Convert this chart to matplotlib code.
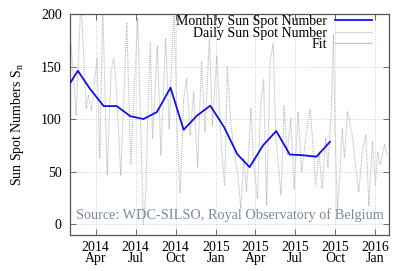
import numpy as np
import pandas as pd
import matplotlib
matplotlib.use("Agg")
import matplotlib.pyplot as plt
import matplotlib.dates as mdates

plt.rcParams['font.family'] = ['Liberation Serif', 'DejaVu Serif']
plt.rcParams['mathtext.fontset'] = 'custom'
plt.rcParams['mathtext.rm'] = 'Liberation Serif'
plt.rcParams['mathtext.it'] = 'Liberation Serif:italic'
plt.rcParams['font.size'] = 10

# monthly mean sunspot number (plotted near the 19th of each month)
monthly_dates = ["2014-01-19", "2014-02-19", "2014-03-19", "2014-04-19", "2014-05-19",
                 "2014-06-19", "2014-07-19", "2014-08-19", "2014-09-19", "2014-10-19",
                 "2014-11-19", "2014-12-19", "2015-01-19", "2015-02-19", "2015-03-19",
                 "2015-04-19", "2015-05-19", "2015-06-19", "2015-07-19", "2015-08-19",
                 "2015-09-19"]
monthly_ssn = [125.7, 146.1, 128.7, 112.5, 112.5, 102.9, 100.2, 106.9, 130.0, 90.0,
               103.6, 112.9, 93.0, 66.7, 54.5, 75.3, 88.8, 66.5, 65.8, 64.4, 78.6]

# daily sunspot number (turning points)
daily_dates = ["2014-02-03", "2014-02-15", "2014-02-26", "2014-03-10", "2014-03-15",
               "2014-03-22", "2014-04-04", "2014-04-10", "2014-04-17", "2014-04-27",
               "2014-05-06", "2014-05-12", "2014-05-17", "2014-05-28", "2014-06-11",
               "2014-06-20", "2014-07-06", "2014-07-19", "2014-07-25", "2014-07-28",
               "2014-08-04", "2014-08-09", "2014-08-20", "2014-08-28", "2014-09-08",
               "2014-09-16", "2014-09-27", "2014-10-05", "2014-10-11", "2014-10-19",
               "2014-10-26", "2014-11-03", "2014-11-11", "2014-11-20", "2014-11-29",
               "2014-12-07", "2014-12-17", "2014-12-24", "2015-01-03", "2015-01-14",
               "2015-01-21", "2015-01-27", "2015-02-04", "2015-02-12", "2015-02-19",
               "2015-02-27", "2015-03-06", "2015-03-12", "2015-03-22", "2015-03-28",
               "2015-04-06", "2015-04-13", "2015-04-20", "2015-04-27", "2015-05-05",
               "2015-05-12", "2015-05-18", "2015-05-30", "2015-06-06", "2015-06-13",
               "2015-06-21", "2015-06-29", "2015-07-08", "2015-07-16", "2015-07-26",
               "2015-08-05", "2015-08-12", "2015-08-17", "2015-08-25", "2015-09-01",
               "2015-09-09", "2015-09-14", "2015-09-22", "2015-09-27", "2015-09-30",
               "2015-10-06", "2015-10-11", "2015-10-17", "2015-10-22", "2015-10-29",
               "2015-11-03", "2015-11-09", "2015-11-17", "2015-11-24", "2015-12-02",
               "2015-12-10", "2015-12-17", "2015-12-25", "2016-01-01", "2016-01-06",
               "2016-01-12", "2016-01-22", "2016-01-28"]
daily_ssn = [172, 104, 215, 110, 123, 108, 158, 63, 205, 47,
             147, 158, 137, 47, 192, 57, 196, 0, 35, 90,
             173, 82, 170, 66, 177, 91, 210, 76, 30, 119,
             138, 85, 126, 54, 155, 88, 177, 94, 160, 69,
             37, 150, 97, 69, 50, 15, 63, 31, 110, 60,
             25, 113, 138, 18, 155, 172, 82, 28, 113, 66,
             101, 34, 107, 50, 85, 110, 69, 37, 69, 34,
             82, 54, 107, 180, 97, 15, 44, 91, 63, 107,
             97, 85, 54, 31, 69, 85, 18, 79, 37, 69,
             57, 76, 66]

monthly_dates = pd.to_datetime(monthly_dates)
daily_dates = pd.to_datetime(daily_dates)

fig = plt.figure(figsize=(4.15, 2.71), dpi=100)
ax = fig.add_axes([0.1687, 0.1328, 0.7686, 0.8155])

ax.plot(daily_dates, daily_ssn, color='#bdbdbd', lw=0.8, dashes=(1, 0.8), label='Daily Sun Spot Number', zorder=2)
ax.plot(monthly_dates, monthly_ssn, color='#1010ee', lw=1.3, label='Monthly Sun Spot Number', zorder=3)
ax.plot([], [], color='#ff6060', lw=0.8, dashes=(1, 0.8), label='Fit')

ax.set_xlim(pd.Timestamp("2014-02-01"), pd.Timestamp("2016-02-01"))
ax.set_ylim(-10, 200)
ax.set_yticks([0, 50, 100, 150, 200])
ax.xaxis.set_major_locator(mdates.MonthLocator(bymonth=[1, 4, 7, 10]))
ax.xaxis.set_major_formatter(mdates.DateFormatter('%Y\n%b'))

ax.grid(True, color='#d0d0d0', ls=':', lw=0.7)
ax.tick_params(direction='in', top=True, right=True, length=4, width=0.6, colors='#555555', labelcolor='black')
ax.tick_params(axis='x', pad=4)
ax.tick_params(axis='y', pad=6)
for s in ax.spines.values():
    s.set_color('#555555')
    s.set_linewidth(0.9)

ax.set_ylabel('Sun Spot Numbers S$_\\mathrm{n}$', labelpad=11)

h, l = ax.get_legend_handles_labels()
order = [1, 0, 2]
ax.legend([h[i] for i in order], [l[i] for i in order], loc='upper right',
          bbox_to_anchor=(0.947, 0.995), frameon=False, markerfirst=False,
          borderpad=0, borderaxespad=0, handlelength=2.66, handletextpad=0.6,
          labelspacing=-0.1)

ax.text(0.5, 0.06, 'Source: WDC-SILSO, Royal Observatory of Belgium', transform=ax.transAxes,
        ha='center', va='bottom', color='#7a8aa0', fontsize=10.3, zorder=4)

fig.canvas.draw()
for lbl in ax.get_xticklabels():
    lbl.set_linespacing(0.85)

fig.savefig('out.png', dpi=100)
